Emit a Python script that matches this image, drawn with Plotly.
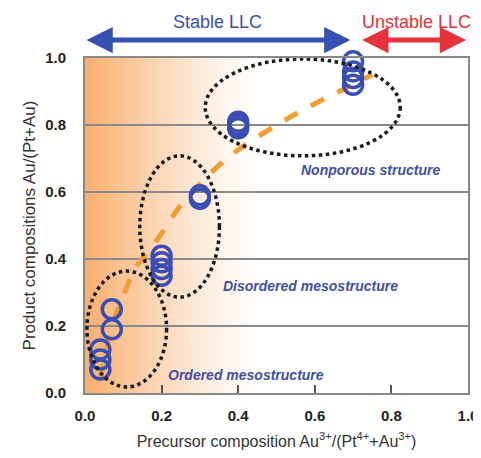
import plotly.graph_objects as go

# ---- data ----
precursor_x = [0.04, 0.04, 0.04, 0.07, 0.07, 0.2, 0.2, 0.2, 0.2, 0.3, 0.3, 0.4, 0.4, 0.4, 0.7, 0.7, 0.7, 0.7]
product_y = [0.07, 0.10, 0.13, 0.19, 0.25, 0.35, 0.37, 0.39, 0.41, 0.58, 0.59, 0.79, 0.80, 0.81, 0.92, 0.94, 0.96, 0.99]

trend_x = [0.04, 0.07, 0.10, 0.13, 0.19, 0.25, 0.37, 0.53, 0.75]
trend_y = [0.04, 0.20, 0.29, 0.37, 0.46, 0.56, 0.70, 0.82, 0.95]

x_ticks = [0.0, 0.2, 0.4, 0.6, 0.8, 1.0]
x_ticklabels = ["0.0", "0.2", "0.4", "0.6", "0.8", "1.0"]
y_ticks = [0.0, 0.2, 0.4, 0.6, 0.8, 1.0]
y_ticklabels = ["0.0", "0.2", "0.4", "0.6", "0.8", "1.0"]

# region ellipses: (label, x0, x1, y0, y1)
regions = [
    ("Ordered mesostructure", 0.005, 0.213, 0.018, 0.364),
    ("Disordered mesostructure", 0.143, 0.351, 0.286, 0.708),
    ("Nonporous structure", 0.314, 0.823, 0.708, 0.997),
]
region_labels = [
    ("Ordered mesostructure", 0.42, 0.055),
    ("Disordered mesostructure", 0.59, 0.318),
    ("Nonporous structure", 0.745, 0.666),
]

# top range arrows: (label, x_start, x_end, label_x, arrow colour, text colour)
llc_ranges = [
    ("Stable LLC", 0.0, 0.693, 0.345, "#3550b0", "#3b4ea6"),
    ("Unstable LLC", 0.72, 0.995, 0.865, "#e5323c", "#e5323c"),
]

FONT = "Liberation Sans, Arial, sans-serif"
BLUE = "#3a4db3"
TXT_BLUE = "#3f4fa6"

fig = go.Figure()

# gradient background (orange -> white) as thin strips
shapes = []
orange = (250, 174, 110)
n = 80
span = 0.46
for i in range(n):
    a = i * span / n
    b = (i + 1) * span / n + 0.002
    t = (i + 0.5) / n
    w = (1 - t) ** 1.3
    c = tuple(int(round(255 - (255 - oc) * w)) for oc in orange)
    shapes.append(dict(type="rect", xref="x", yref="y", x0=a, x1=b, y0=0, y1=1,
                       fillcolor="rgb(%d,%d,%d)" % c, line=dict(width=0), layer="below"))

# ellipses
for lbl, x0, x1, y0, y1 in regions:
    shapes.append(dict(type="circle", xref="x", yref="y", x0=x0, x1=x1, y0=y0, y1=y1,
                       line=dict(color="#1a1a1a", width=3.5, dash="dot"), layer="above"))

fig.add_trace(go.Scatter(
    x=trend_x, y=trend_y, mode="lines",
    line=dict(color="#f39c32", width=5, dash="dash", shape="spline", smoothing=0.8),
    hoverinfo="skip", showlegend=False))

fig.add_trace(go.Scatter(
    x=precursor_x, y=product_y, mode="markers",
    marker=dict(symbol="circle-open", size=19, color=BLUE, line=dict(width=3.5, color=BLUE)),
    cliponaxis=False, showlegend=False))

annotations = []
for lbl, x, y in region_labels:
    annotations.append(dict(x=x, y=y, xref="x", yref="y", text="<b><i>%s</i></b>" % lbl,
                            showarrow=False, font=dict(family=FONT, size=14, color=TXT_BLUE)))

H_PLOT = 335.0
arrow_y = (393 - 40) / H_PLOT
label_y = (393 - 22) / H_PLOT
for lbl, xs, xe, lx, acol, tcol in llc_ranges:
    annotations.append(dict(x=xe, y=arrow_y, ax=xs, ay=arrow_y, xref="x", yref="y domain",
                            axref="x", ayref="y domain",
                            text="", showarrow=True, arrowhead=2, arrowside="end+start",
                            arrowsize=1.05, arrowwidth=5, arrowcolor=acol, standoff=0, startstandoff=0))
    annotations.append(dict(x=lx, y=label_y, xref="x", yref="y domain", text=lbl,
                            xanchor="center", yanchor="middle",
                            showarrow=False, font=dict(family=FONT, size=18, color=tcol)))

# page has an 8px body margin: figure is sized/offset to compensate
fig.update_layout(
    width=473, height=442,
    margin=dict(l=77, r=13, t=50, b=57),
    paper_bgcolor="white", plot_bgcolor="white",
    shapes=shapes, annotations=annotations,
    font=dict(family=FONT, color="#222"),
    showlegend=False,
)

fig.update_xaxes(
    range=[0, 1], tickvals=x_ticks, ticktext=["<b>%s</b>" % t for t in x_ticklabels],
    ticks="inside", ticklen=8, tickwidth=1.5, tickcolor="#555",
    showgrid=False, zeroline=False,
    showline=True, linecolor="#888", linewidth=2, mirror=True,
    tickfont=dict(family=FONT, size=15, color="#222"), ticklabelstandoff=8,
    title=dict(text="Precursor composition Au<sup>3+</sup>/(Pt<sup>4+</sup>+Au<sup>3+</sup>)",
               font=dict(family=FONT, size=16, color="#333"), standoff=13),
    automargin=False,
)
fig.update_yaxes(
    range=[0, 1], tickvals=y_ticks, ticktext=["<b>%s</b>" % t for t in y_ticklabels],
    ticks="", showgrid=True, gridcolor="#8a8a8a", gridwidth=1.5, zeroline=False,
    showline=True, linecolor="#888", linewidth=2, mirror=True,
    tickfont=dict(family=FONT, size=15, color="#222"), ticklabelstandoff=14,
    title=dict(text="Product compositions Au/(Pt+Au)",
               font=dict(family=FONT, size=17, color="#333"), standoff=5),
    automargin=False,
)

fig.write_html("out.html")
